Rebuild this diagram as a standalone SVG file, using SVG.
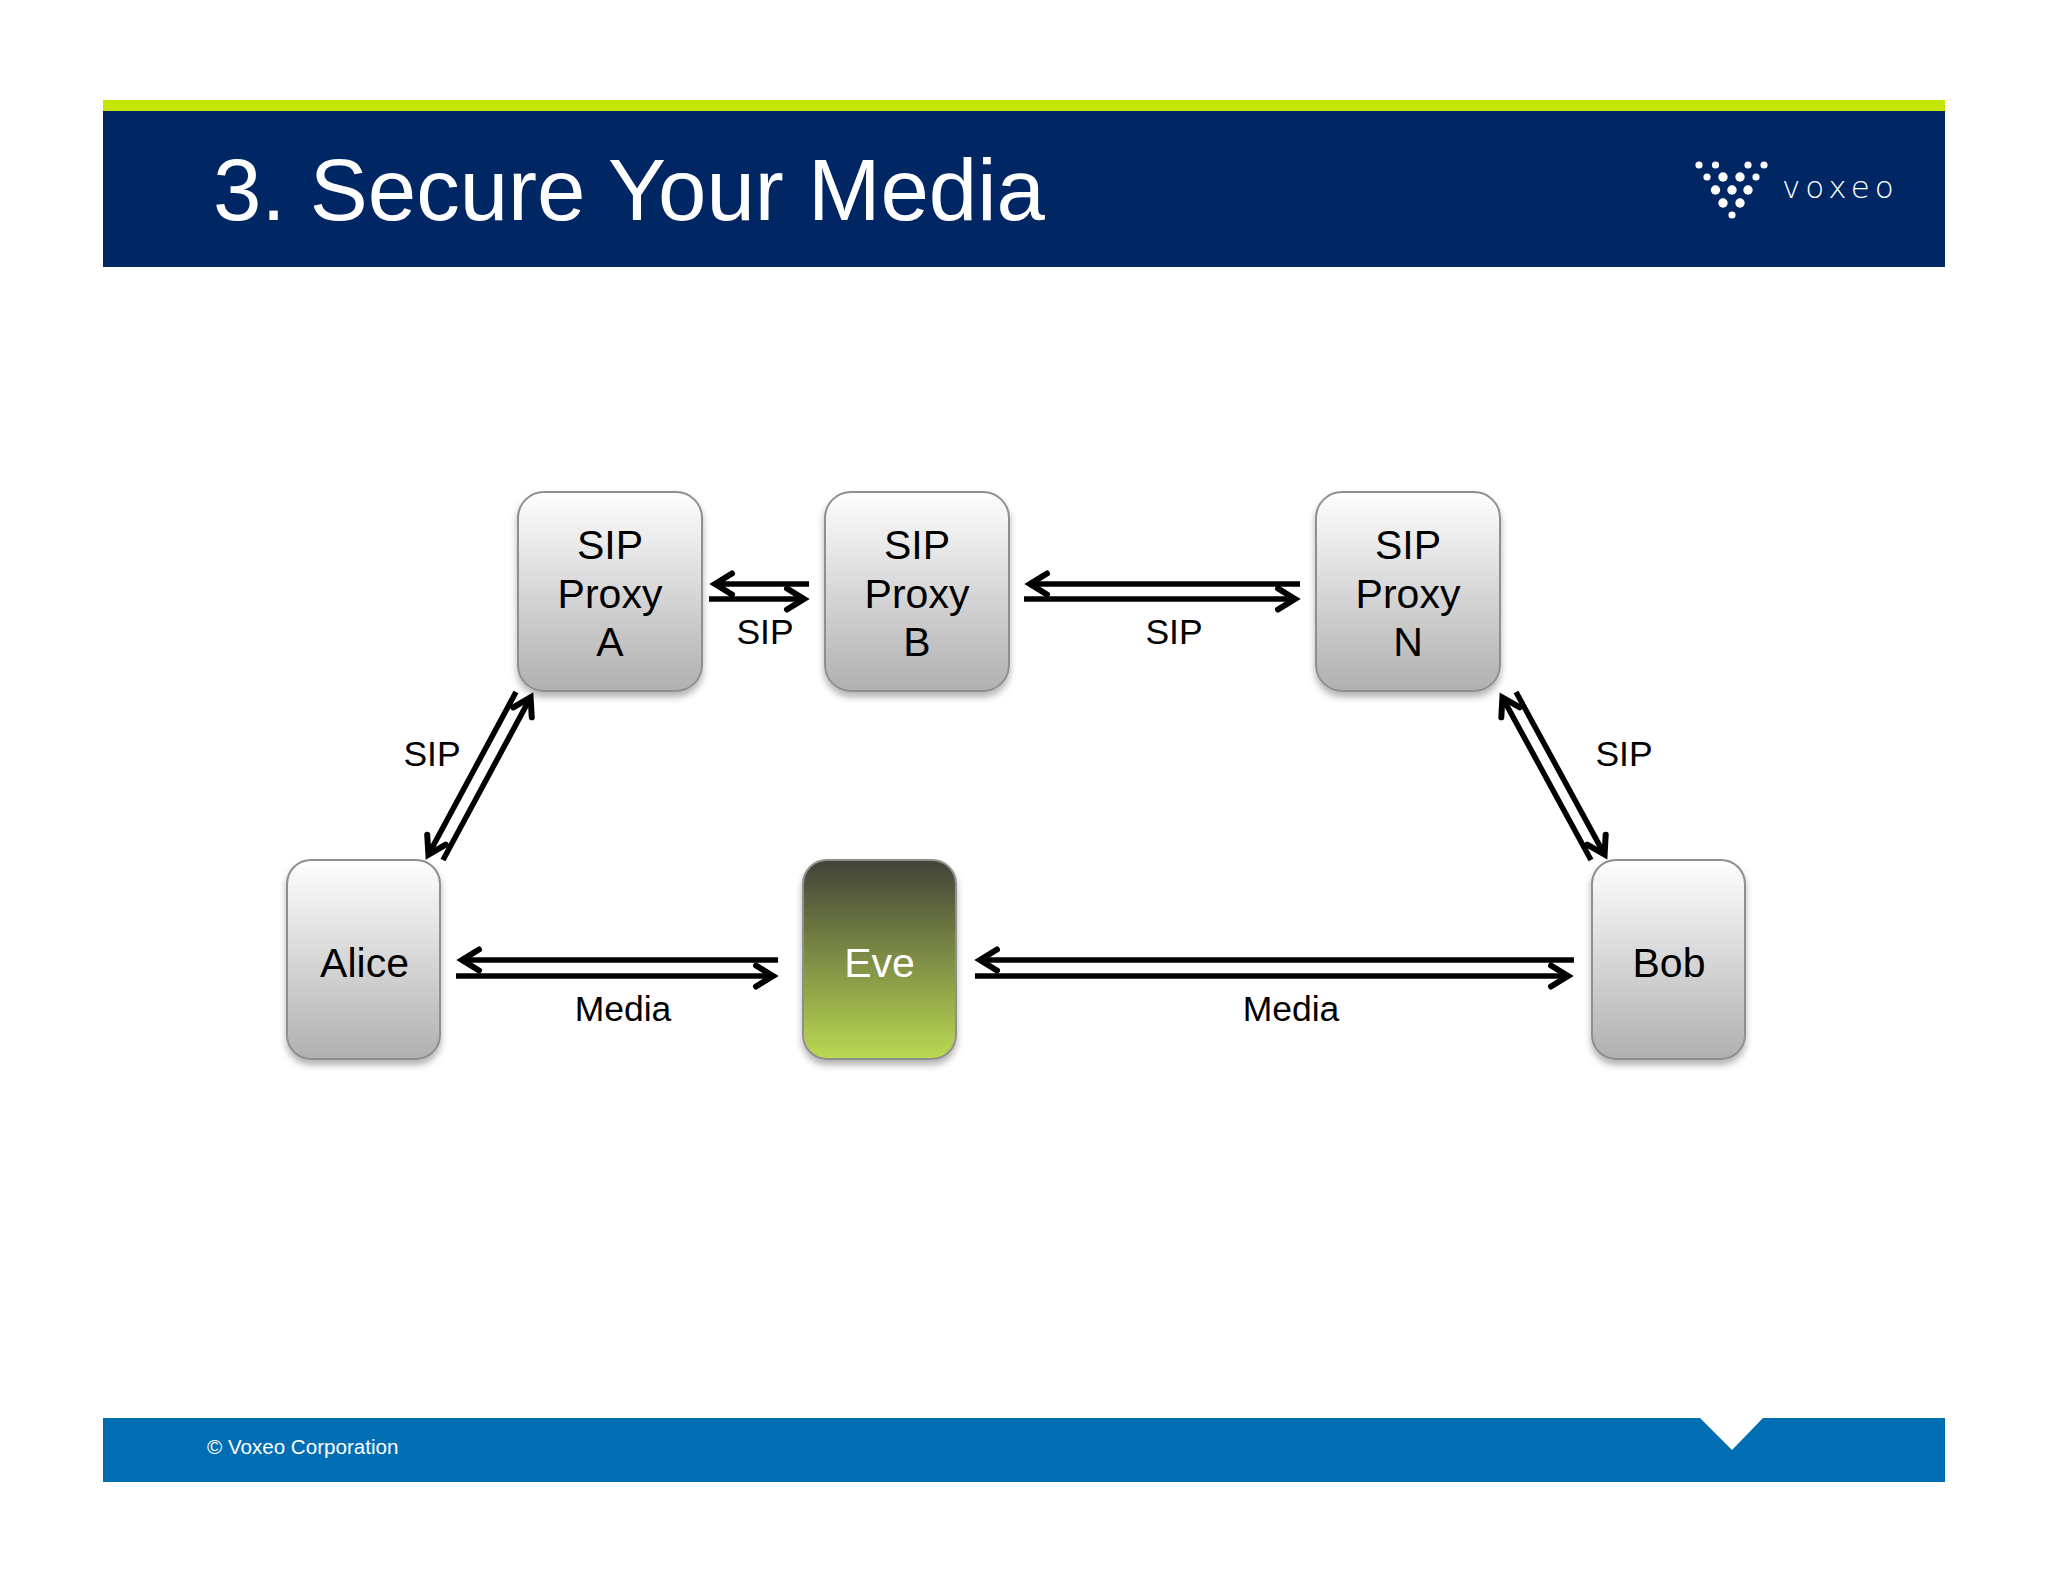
<svg xmlns="http://www.w3.org/2000/svg" width="2048" height="1582" viewBox="0 0 2048 1582">
<style>
text{font-family:"Liberation Sans",Arial,sans-serif;fill:#000}
.n{font-size:41px;text-anchor:middle}
.l{font-size:35.5px;text-anchor:middle}
.box{stroke:#8f8f8f;stroke-width:2;filter:url(#s)}
.a{stroke:#000;stroke-width:5.5;fill:none;marker-end:url(#h)}
.d{fill:#fff}
</style>
<defs>
<linearGradient id="g" x1="0" y1="0" x2="0" y2="1"><stop offset="0" stop-color="#fefefe"/><stop offset="1" stop-color="#b0b0b1"/></linearGradient>
<linearGradient id="e" x1="0" y1="0" x2="0" y2="1"><stop offset="0" stop-color="#414238"/><stop offset="1" stop-color="#bbd952"/></linearGradient>
<filter id="s" x="-10%" y="-10%" width="120%" height="120%"><feDropShadow dx="0" dy="5" stdDeviation="3.5" flood-color="#000" flood-opacity="0.3"/></filter>
<marker id="h" markerUnits="userSpaceOnUse" markerWidth="40" markerHeight="40" refX="30" refY="20" orient="auto" overflow="visible"><path d="M13,9.5 L30,20 L13,30.5" fill="none" stroke="#000" stroke-width="6" stroke-linecap="round"/></marker>
</defs>
<rect width="2048" height="1582" fill="#fff"/>
<g id="header">
<rect x="103" y="100" width="1842" height="11" fill="#c5e600"/>
<rect x="103" y="111" width="1842" height="156" fill="#002663"/>
<text x="213" y="220" font-size="87" style="fill:#fff">3. Secure Your Media</text>
<g id="logo">
<circle class="d" cx="1699" cy="165" r="3.6"/><circle class="d" cx="1715.5" cy="165" r="3.6"/><circle class="d" cx="1748" cy="165" r="3.6"/><circle class="d" cx="1764" cy="165" r="3.6"/>
<circle class="d" cx="1707" cy="177" r="3.6"/><circle class="d" cx="1723" cy="177" r="4.7"/><circle class="d" cx="1740" cy="177" r="4.7"/><circle class="d" cx="1756" cy="177" r="3.6"/>
<circle class="d" cx="1715.5" cy="190" r="4.7"/><circle class="d" cx="1732" cy="190" r="4.7"/><circle class="d" cx="1748" cy="190" r="4.7"/>
<circle class="d" cx="1723" cy="203" r="4.7"/><circle class="d" cx="1740" cy="203" r="4.7"/>
<circle class="d" cx="1732" cy="215" r="3.6"/>
<text x="1782" y="198" font-size="31" letter-spacing="5" style="font-family:'DejaVu Sans',sans-serif;font-weight:200;fill:#fff">voxeo</text>
</g>
</g>
<g id="footer">
<path d="M103,1418H1700L1732,1450L1763,1418H1945V1482H103Z" fill="#016eb3"/>
<text x="207" y="1454" font-size="20.6" style="fill:#fff">© Voxeo Corporation</text>
</g>
<g id="proxy-a"><rect class="box" fill="url(#g)" x="518" y="492" width="184" height="199" rx="26"/>
<text class="n" x="610" y="559">SIP</text><text class="n" x="610" y="608">Proxy</text><text class="n" x="610" y="656">A</text></g>
<g id="proxy-b"><rect class="box" fill="url(#g)" x="825" y="492" width="184" height="199" rx="26"/>
<text class="n" x="917" y="559">SIP</text><text class="n" x="917" y="608">Proxy</text><text class="n" x="917" y="656">B</text></g>
<g id="proxy-n"><rect class="box" fill="url(#g)" x="1316" y="492" width="184" height="199" rx="26"/>
<text class="n" x="1408" y="559">SIP</text><text class="n" x="1408" y="608">Proxy</text><text class="n" x="1408" y="656">N</text></g>
<g id="alice"><rect class="box" fill="url(#g)" x="287" y="860" width="153" height="199" rx="24"/>
<text class="n" x="364.500" y="977">Alice</text></g>
<g id="eve"><rect class="box" fill="url(#e)" x="803" y="860" width="153" height="199" rx="24"/>
<text class="n" x="879.500" y="977" style="fill:#fff">Eve</text></g>
<g id="bob"><rect class="box" fill="url(#g)" x="1592" y="860" width="153" height="199" rx="24"/>
<text class="n" x="1669" y="977">Bob</text></g>
<g id="connectors">
<line class="a" x1="809" y1="584" x2="715" y2="584"/>
<line class="a" x1="709" y1="599" x2="804" y2="599"/>
<line class="a" x1="1300" y1="584" x2="1030" y2="584"/>
<line class="a" x1="1024" y1="599" x2="1295" y2="599"/>
<line class="a" x1="778" y1="960" x2="462" y2="960"/>
<line class="a" x1="456" y1="976" x2="773" y2="976"/>
<line class="a" x1="1574" y1="960" x2="980" y2="960"/>
<line class="a" x1="975" y1="976" x2="1568" y2="976"/>
<line class="a" x1="516" y1="692" x2="428.400" y2="854.600"/>
<line class="a" x1="443" y1="860" x2="530.600" y2="697.400"/>
<line class="a" x1="1591" y1="860" x2="1502.400" y2="697.400"/>
<line class="a" x1="1516" y1="692" x2="1604.600" y2="854.600"/>
</g>
<g id="labels">
<text class="l" x="765" y="644">SIP</text>
<text class="l" x="1174" y="644">SIP</text>
<text class="l" x="432" y="766">SIP</text>
<text class="l" x="1624" y="766">SIP</text>
<text class="l" x="623" y="1021">Media</text>
<text class="l" x="1291" y="1021">Media</text>
</g>
</svg>
